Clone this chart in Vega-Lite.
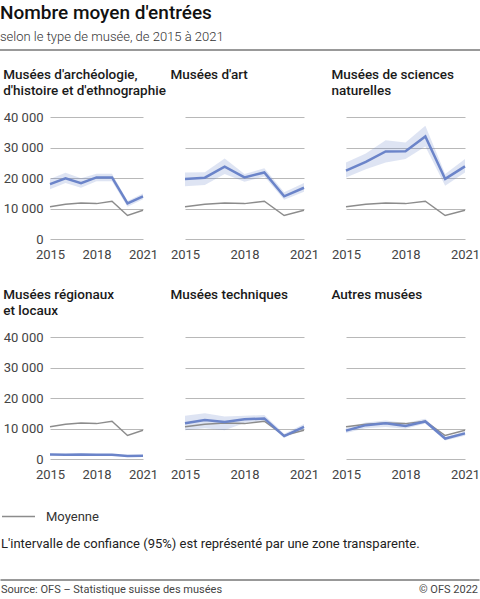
{
  "$schema": "https://vega.github.io/schema/vega-lite/v6.json",
  "background": "white",
  "padding": {"left": 0, "top": 4, "right": 0, "bottom": 0},
  "title": {
    "text": "Nombre moyen d'entrées",
    "subtitle": "selon le type de musée, de 2015 à 2021",
    "anchor": "start",
    "fontSize": 19,
    "fontWeight": 500,
    "color": "#111111",
    "subtitleFontSize": 13,
    "subtitleFontWeight": 300,
    "subtitleColor": "#333333",
    "subtitlePadding": 8,
    "offset": 5
  },
  "datasets": {
    "moyenne": [
      {"year": 2015, "value": 10600},
      {"year": 2016, "value": 11400},
      {"year": 2017, "value": 11800},
      {"year": 2018, "value": 11600},
      {"year": 2019, "value": 12400},
      {"year": 2020, "value": 7700},
      {"year": 2021, "value": 9400}
    ],
    "musees": [
      {"type": "archeo", "year": 2015, "value": 18000, "lo": 16300, "hi": 19700},
      {"type": "archeo", "year": 2016, "value": 19900, "lo": 18400, "hi": 21700},
      {"type": "archeo", "year": 2017, "value": 18300, "lo": 16800, "hi": 19900},
      {"type": "archeo", "year": 2018, "value": 20200, "lo": 18900, "hi": 21400},
      {"type": "archeo", "year": 2019, "value": 20200, "lo": 18900, "hi": 21400},
      {"type": "archeo", "year": 2020, "value": 11700, "lo": 10600, "hi": 12500},
      {"type": "archeo", "year": 2021, "value": 14000, "lo": 13000, "hi": 14900},
      {"type": "art", "year": 2015, "value": 19700, "lo": 17300, "hi": 21800},
      {"type": "art", "year": 2016, "value": 20100, "lo": 17700, "hi": 21900},
      {"type": "art", "year": 2017, "value": 23700, "lo": 21300, "hi": 26400},
      {"type": "art", "year": 2018, "value": 20200, "lo": 18800, "hi": 21300},
      {"type": "art", "year": 2019, "value": 21800, "lo": 20500, "hi": 23200},
      {"type": "art", "year": 2020, "value": 14000, "lo": 12900, "hi": 15300},
      {"type": "art", "year": 2021, "value": 16800, "lo": 15500, "hi": 18400},
      {"type": "sciences", "year": 2015, "value": 22400, "lo": 20200, "hi": 25100},
      {"type": "sciences", "year": 2016, "value": 25300, "lo": 22900, "hi": 28000},
      {"type": "sciences", "year": 2017, "value": 28700, "lo": 25100, "hi": 32400},
      {"type": "sciences", "year": 2018, "value": 28800, "lo": 26200, "hi": 31600},
      {"type": "sciences", "year": 2019, "value": 33600, "lo": 30300, "hi": 37100},
      {"type": "sciences", "year": 2020, "value": 19700, "lo": 17500, "hi": 21300},
      {"type": "sciences", "year": 2021, "value": 23800, "lo": 21800, "hi": 26200},
      {"type": "regionaux", "year": 2015, "value": 1500, "lo": 1300, "hi": 1700},
      {"type": "regionaux", "year": 2016, "value": 1400, "lo": 1200, "hi": 1600},
      {"type": "regionaux", "year": 2017, "value": 1500, "lo": 1300, "hi": 1700},
      {"type": "regionaux", "year": 2018, "value": 1400, "lo": 1200, "hi": 1600},
      {"type": "regionaux", "year": 2019, "value": 1400, "lo": 1200, "hi": 1600},
      {"type": "regionaux", "year": 2020, "value": 1000, "lo": 850, "hi": 1150},
      {"type": "regionaux", "year": 2021, "value": 1100, "lo": 950, "hi": 1250},
      {"type": "techniques", "year": 2015, "value": 11700, "lo": 9400, "hi": 14200},
      {"type": "techniques", "year": 2016, "value": 12800, "lo": 10100, "hi": 15000},
      {"type": "techniques", "year": 2017, "value": 12100, "lo": 9400, "hi": 13900},
      {"type": "techniques", "year": 2018, "value": 13000, "lo": 11800, "hi": 14200},
      {"type": "techniques", "year": 2019, "value": 13300, "lo": 12200, "hi": 14400},
      {"type": "techniques", "year": 2020, "value": 7500, "lo": 7000, "hi": 8300},
      {"type": "techniques", "year": 2021, "value": 10500, "lo": 9600, "hi": 11500},
      {"type": "autres", "year": 2015, "value": 9300, "lo": 8500, "hi": 10200},
      {"type": "autres", "year": 2016, "value": 11100, "lo": 10100, "hi": 12000},
      {"type": "autres", "year": 2017, "value": 11700, "lo": 10500, "hi": 12600},
      {"type": "autres", "year": 2018, "value": 10800, "lo": 9900, "hi": 11800},
      {"type": "autres", "year": 2019, "value": 12300, "lo": 11600, "hi": 13200},
      {"type": "autres", "year": 2020, "value": 6700, "lo": 6100, "hi": 7100},
      {"type": "autres", "year": 2021, "value": 8400, "lo": 7600, "hi": 9100}
    ]
  },
  "vconcat": [
    {
      "width": 430,
      "height": 2,
      "data": {"values": [{"pos": 0}, {"pos": 1}]},
      "mark": {"type": "rect", "color": "#999999", "xOffset": -50},
      "encoding": {
        "x": {"aggregate": "min", "field": "pos", "type": "quantitative", "scale": {"domain": [0, 1]}, "axis": null},
        "x2": {"aggregate": "max", "field": "pos"}
      }
    },
    {
      "spacing": 89,
      "vconcat": [
        {
          "columns": 3,
          "align": "each",
          "bounds": "flush",
          "spacing": {"row": 98, "column": 42},
          "concat": [
            {
              "width": 93, "height": 122,
              "title": ["Musées d'archéologie,", "d'histoire et d'ethnographie"],
              "data": {"name": "musees"},
              "transform": [{"filter": {"field": "type", "equal": "archeo"}}],
              "encoding": {"x": {"field": "year", "type": "quantitative", "title": null, "scale": {"domain": [2015, 2021]}, "axis": {"values": [2015, 2018, 2021], "format": "d"}}},
              "layer": [
                {"mark": {"type": "area", "color": "#6b84c9", "opacity": 0.22},
                 "encoding": {"y": {"field": "lo", "type": "quantitative", "title": null, "scale": {"domain": [0, 40000]}, "axis": {"labels": true}}, "y2": {"field": "hi"}}},
                {"data": {"name": "moyenne"}, "mark": {"type": "line", "strokeWidth": 1.5},
                 "encoding": {"y": {"field": "value", "type": "quantitative", "title": null}, "color": {"datum": "Moyenne", "title": "L'intervalle de confiance (95%) est représenté par une zone transparente."}}},
                {"mark": {"type": "line", "color": "#6b84c9", "strokeWidth": 2.5},
                 "encoding": {"y": {"field": "value", "type": "quantitative", "title": null}}}
              ]
            },
            {
              "width": 119, "height": 122,
              "title": {"text": ["Musées d'art", " "], "offset": 20},
              "data": {"name": "musees"},
              "transform": [{"filter": {"field": "type", "equal": "art"}}],
              "encoding": {"x": {"field": "year", "type": "quantitative", "title": null, "scale": {"domain": [2015, 2021]}, "axis": {"values": [2015, 2018, 2021], "format": "d"}}},
              "layer": [
                {"mark": {"type": "area", "color": "#6b84c9", "opacity": 0.22},
                 "encoding": {"y": {"field": "lo", "type": "quantitative", "title": null, "scale": {"domain": [0, 40000]}}, "y2": {"field": "hi"}}},
                {"data": {"name": "moyenne"}, "mark": {"type": "line", "strokeWidth": 1.5},
                 "encoding": {"y": {"field": "value", "type": "quantitative", "title": null}, "color": {"datum": "Moyenne", "title": "L'intervalle de confiance (95%) est représenté par une zone transparente."}}},
                {"mark": {"type": "line", "color": "#6b84c9", "strokeWidth": 2.5},
                 "encoding": {"y": {"field": "value", "type": "quantitative", "title": null}}}
              ]
            },
            {
              "width": 119, "height": 122,
              "title": {"text": ["Musées de sciences", "naturelles"], "offset": 20},
              "data": {"name": "musees"},
              "transform": [{"filter": {"field": "type", "equal": "sciences"}}],
              "encoding": {"x": {"field": "year", "type": "quantitative", "title": null, "scale": {"domain": [2015, 2021]}, "axis": {"values": [2015, 2018, 2021], "format": "d"}}},
              "layer": [
                {"mark": {"type": "area", "color": "#6b84c9", "opacity": 0.22},
                 "encoding": {"y": {"field": "lo", "type": "quantitative", "title": null, "scale": {"domain": [0, 40000]}}, "y2": {"field": "hi"}}},
                {"data": {"name": "moyenne"}, "mark": {"type": "line", "strokeWidth": 1.5},
                 "encoding": {"y": {"field": "value", "type": "quantitative", "title": null}, "color": {"datum": "Moyenne", "title": "L'intervalle de confiance (95%) est représenté par une zone transparente."}}},
                {"mark": {"type": "line", "color": "#6b84c9", "strokeWidth": 2.5},
                 "encoding": {"y": {"field": "value", "type": "quantitative", "title": null}}}
              ]
            },
            {
              "width": 93, "height": 122,
              "title": ["Musées régionaux", "et locaux"],
              "data": {"name": "musees"},
              "transform": [{"filter": {"field": "type", "equal": "regionaux"}}],
              "encoding": {"x": {"field": "year", "type": "quantitative", "title": null, "scale": {"domain": [2015, 2021]}, "axis": {"values": [2015, 2018, 2021], "format": "d"}}},
              "layer": [
                {"mark": {"type": "area", "color": "#6b84c9", "opacity": 0.22},
                 "encoding": {"y": {"field": "lo", "type": "quantitative", "title": null, "scale": {"domain": [0, 40000]}, "axis": {"labels": true}}, "y2": {"field": "hi"}}},
                {"data": {"name": "moyenne"}, "mark": {"type": "line", "strokeWidth": 1.5},
                 "encoding": {"y": {"field": "value", "type": "quantitative", "title": null}, "color": {"datum": "Moyenne", "title": "L'intervalle de confiance (95%) est représenté par une zone transparente."}}},
                {"mark": {"type": "line", "color": "#6b84c9", "strokeWidth": 2.5},
                 "encoding": {"y": {"field": "value", "type": "quantitative", "title": null}}}
              ]
            },
            {
              "width": 119, "height": 122,
              "title": {"text": ["Musées techniques", " "], "offset": 20},
              "data": {"name": "musees"},
              "transform": [{"filter": {"field": "type", "equal": "techniques"}}],
              "encoding": {"x": {"field": "year", "type": "quantitative", "title": null, "scale": {"domain": [2015, 2021]}, "axis": {"values": [2015, 2018, 2021], "format": "d"}}},
              "layer": [
                {"mark": {"type": "area", "color": "#6b84c9", "opacity": 0.22},
                 "encoding": {"y": {"field": "lo", "type": "quantitative", "title": null, "scale": {"domain": [0, 40000]}}, "y2": {"field": "hi"}}},
                {"data": {"name": "moyenne"}, "mark": {"type": "line", "strokeWidth": 1.5},
                 "encoding": {"y": {"field": "value", "type": "quantitative", "title": null}, "color": {"datum": "Moyenne", "title": "L'intervalle de confiance (95%) est représenté par une zone transparente."}}},
                {"mark": {"type": "line", "color": "#6b84c9", "strokeWidth": 2.5},
                 "encoding": {"y": {"field": "value", "type": "quantitative", "title": null}}}
              ]
            },
            {
              "width": 119, "height": 122,
              "title": {"text": ["Autres musées", " "], "offset": 20},
              "data": {"name": "musees"},
              "transform": [{"filter": {"field": "type", "equal": "autres"}}],
              "encoding": {"x": {"field": "year", "type": "quantitative", "title": null, "scale": {"domain": [2015, 2021]}, "axis": {"values": [2015, 2018, 2021], "format": "d"}}},
              "layer": [
                {"mark": {"type": "area", "color": "#6b84c9", "opacity": 0.22},
                 "encoding": {"y": {"field": "lo", "type": "quantitative", "title": null, "scale": {"domain": [0, 40000]}}, "y2": {"field": "hi"}}},
                {"data": {"name": "moyenne"}, "mark": {"type": "line", "strokeWidth": 1.5},
                 "encoding": {"y": {"field": "value", "type": "quantitative", "title": null}, "color": {"datum": "Moyenne", "title": "L'intervalle de confiance (95%) est représenté par une zone transparente."}}},
                {"mark": {"type": "line", "color": "#6b84c9", "strokeWidth": 2.5},
                 "encoding": {"y": {"field": "value", "type": "quantitative", "title": null}}}
              ]
            }
          ]
        },
        {
          "width": 430,
          "height": 0,
          "data": {"values": [
            {"note": "Source: OFS – Statistique suisse des musées", "pos": 0},
            {"note": "© OFS 2022", "pos": 1}
          ]},
          "encoding": {"x": {"field": "pos", "type": "quantitative", "scale": {"domain": [0, 1]}, "axis": null}},
          "layer": [
            {"mark": {"type": "rule", "color": "#333333", "strokeWidth": 1, "xOffset": -49.5, "x2Offset": -0.5},
             "encoding": {"x": {"aggregate": "min", "field": "pos", "type": "quantitative"}, "x2": {"aggregate": "max", "field": "pos"}}},
            {"transform": [{"filter": "datum.pos === 0"}],
             "mark": {"type": "text", "align": "left", "baseline": "middle", "dx": -49, "dy": 10, "fontSize": 11, "color": "#444444"},
             "encoding": {"text": {"field": "note"}}},
            {"transform": [{"filter": "datum.pos === 1"}],
             "mark": {"type": "text", "align": "right", "baseline": "middle", "dx": -2, "dy": 10, "fontSize": 11, "color": "#444444"},
             "encoding": {"text": {"field": "note"}}}
          ]
        }
      ]
    }
  ],
  "spacing": 16,
  "config": {
    "font": "Roboto",
    "view": {"stroke": null},
    "range": {"category": ["#8c8c8c"]},
    "title": {"anchor": "start", "fontSize": 13.5, "fontWeight": 500, "color": "#1a1a1a", "lineHeight": 16, "offset": 14},
    "axis": {"domain": false, "ticks": false, "labelFontSize": 13, "labelColor": "#444444", "gridColor": "#b8b8b8", "gridWidth": 1},
    "axisX": {"grid": false, "labelPadding": 9, "labelFlush": false},
    "axisY": {"labelExpr": "replace(format(datum.value, ','), ',', ' ')", "labelPadding": 7, "labels": false},
    "legend": {
      "orient": "none",
      "legendX": -49,
      "legendY": 450,
      "titleOrient": "bottom",
      "titleFontSize": 13,
      "titleFontWeight": "normal",
      "titleColor": "#222222",
      "titleLimit": 0,
      "titlePadding": 14,
      "symbolType": "stroke",
      "symbolSize": 1089,
      "symbolStrokeWidth": 1.5,
      "labelFontSize": 13,
      "labelColor": "#333333",
      "labelOffset": 10
    }
  }
}
